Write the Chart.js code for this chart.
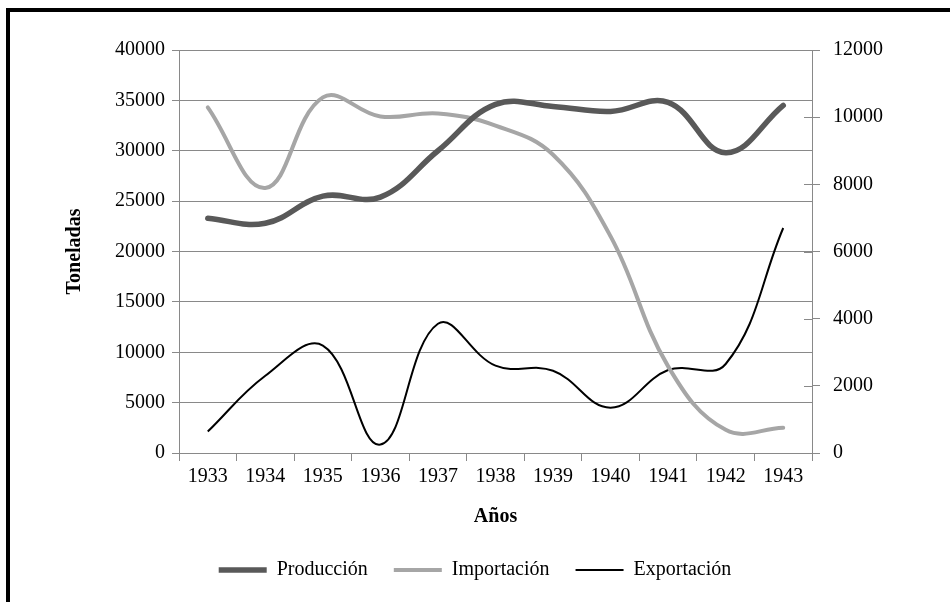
<!DOCTYPE html>
<html lang="es">
<head>
<meta charset="utf-8">
<title>Producción, importación y exportación</title>
<script src="https://cdn.jsdelivr.net/npm/chart.js@4"></script>
<style>
    html, body { margin: 0; padding: 0; background: #fff; overflow: hidden; }
    #wrap { position: relative; width: 950px; height: 602px; }
    #marco {
        position: absolute; left: 6px; top: 8px; width: 1000px; height: 700px;
        border-top: 4px solid #000; border-left: 4px solid #000; pointer-events: none;
    }
</style>
</head>
<body>
<div id="wrap">
    <canvas id="grafico" width="950" height="602"></canvas>
    <div id="marco"></div>
</div>
<script>
const anios = ["1933", "1934", "1935", "1936", "1937", "1938", "1939", "1940", "1941", "1942", "1943"];
const produccion = [23300, 22800, 25500, 25400, 30000, 34600, 34400, 33900, 34800, 29800, 34500];
const importacion = [34300, 26300, 35300, 33400, 33700, 32500, 29600, 21500, 8600, 2300, 2500];
const exportacion = [640, 2300, 3200, 250, 3850, 2600, 2450, 1350, 2470, 2650, 6700];

const GRIS = "#898989";

Chart.defaults.font.family = "'Liberation Serif', 'Times New Roman', serif";
Chart.defaults.font.size = 20;
Chart.defaults.color = "#000";

// sin separador de miles
const sinMiles = (v) => String(v);

// marcas del eje derecho que cruzan la línea del eje
const marcasCruzadas = {
    id: "marcasCruzadas",
    afterDraw(chart) {
        const s = chart.scales.y1;
        const ctx = chart.ctx;
        ctx.save();
        ctx.strokeStyle = GRIS;
        ctx.lineWidth = 1;
        s.ticks.forEach((t) => {
            const y = Math.round(s.getPixelForValue(t.value)) + 0.5;
            ctx.beginPath();
            ctx.moveTo(s.left - 8, y);
            ctx.lineTo(s.left, y);
            ctx.stroke();
        });
        ctx.restore();
    },
};

new Chart(document.getElementById("grafico"), {
    type: "line",
    data: {
        labels: anios,
        datasets: [
            {
                label: "Producción",
                data: produccion,
                borderColor: "#595959",
                backgroundColor: "#595959",
                borderWidth: 5.5,
                borderCapStyle: "round",
                pointStyle: "line",
                yAxisID: "y",
            },
            {
                label: "Importación",
                data: importacion,
                borderColor: "#a6a6a6",
                backgroundColor: "#a6a6a6",
                borderWidth: 4,
                borderCapStyle: "round",
                pointStyle: "line",
                yAxisID: "y",
            },
            {
                label: "Exportación",
                data: exportacion,
                borderColor: "#000",
                backgroundColor: "#000",
                borderWidth: 2,
                pointStyle: "line",
                yAxisID: "y1",
            },
        ],
    },
    options: {
        responsive: false,
        animation: false,
        layout: { padding: { top: 50, left: 0, right: 0, bottom: 12 } },
        elements: {
            point: { radius: 0, hoverRadius: 0 },
            line: { tension: 0.4, fill: false },
        },
        plugins: {
            tooltip: { enabled: false },
            legend: {
                position: "bottom",
                labels: {
                    usePointStyle: true,
                    pointStyleWidth: 48,
                    padding: 26,
                    font: { size: 20 },
                },
            },
        },
        scales: {
            x: {
                offset: true,
                grid: { offset: true, drawOnChartArea: false, color: GRIS, tickLength: 8 },
                border: { color: GRIS },
                ticks: { padding: 4, maxRotation: 0 },
                title: { display: true, text: "Años", font: { size: 20, weight: "bold" }, padding: { top: 0, bottom: 5 } },
                afterFit: (s) => { s.height = 81; },
            },
            y: {
                position: "left",
                min: 0,
                max: 40000,
                ticks: { stepSize: 5000, padding: 7, callback: sinMiles },
                grid: { color: GRIS, tickLength: 7 },
                border: { color: GRIS },
                title: { display: true, text: "Toneladas", font: { size: 20, weight: "bold" }, padding: { top: 63, bottom: 0 } },
                afterFit: (s) => { s.width = 179; },
            },
            y1: {
                position: "right",
                min: 0,
                max: 12000,
                ticks: { stepSize: 2000, padding: 13, callback: sinMiles },
                grid: { drawOnChartArea: false, color: GRIS, tickLength: 8 },
                border: { color: GRIS },
                afterFit: (s) => { s.width = 138; },
            },
        },
    },
    plugins: [marcasCruzadas],
});
</script>
</body>
</html>
